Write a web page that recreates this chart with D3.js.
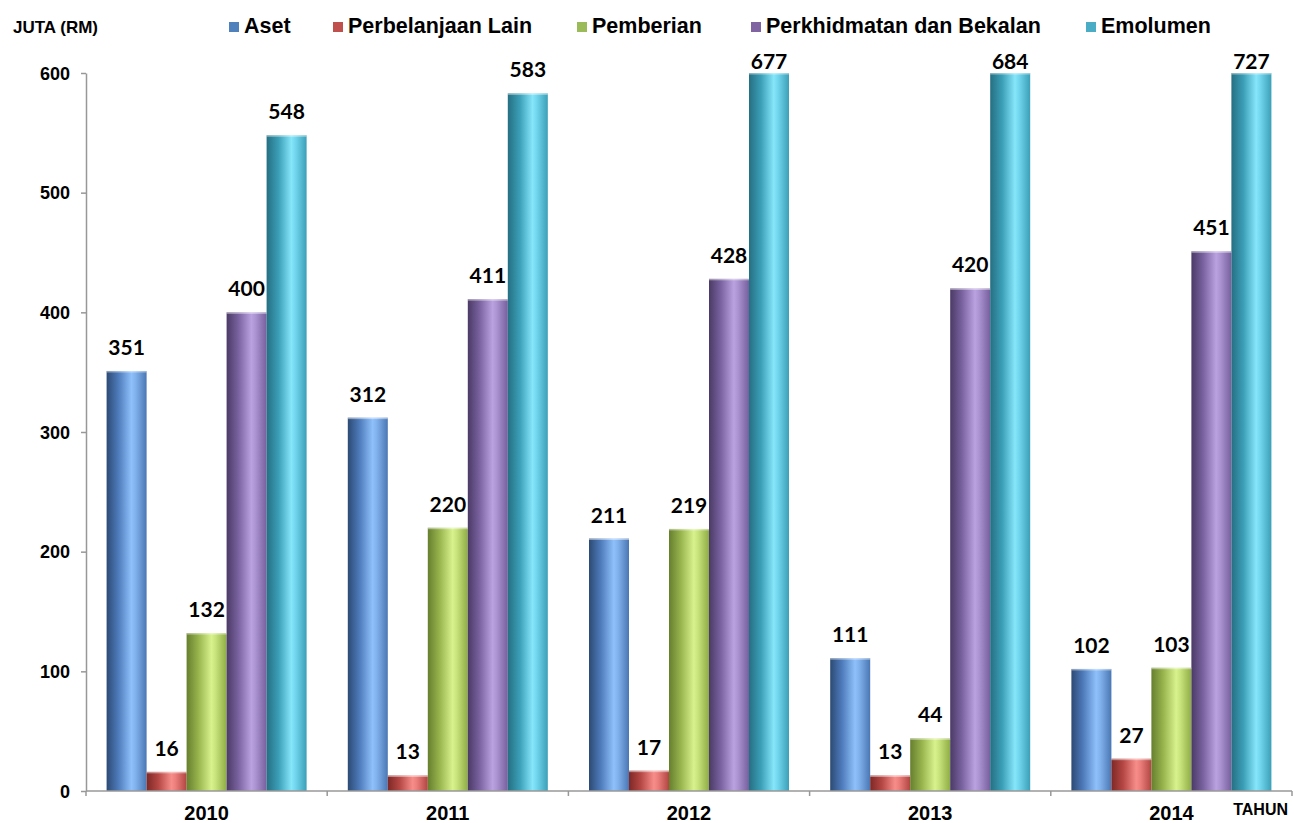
<!DOCTYPE html>
<html>
<head>
<meta charset="utf-8">
<script src="https://cdn.jsdelivr.net/npm/d3@7"></script>
<style>
  html, body { margin: 0; padding: 0; background: #fff; }
  svg { display: block; }
</style>
</head>
<body>
<svg id="chart" width="1294" height="823"></svg>
<script>
const years = ["2010", "2011", "2012", "2013", "2014"];
const seriesNames = ["Aset", "Perbelanjaan Lain", "Pemberian", "Perkhidmatan dan Bekalan", "Emolumen"];
const aset = [351, 312, 211, 111, 102];
const perbelanjaanLain = [16, 13, 17, 13, 27];
const pemberian = [132, 220, 219, 44, 103];
const perkhidmatan = [400, 411, 428, 420, 451];
const emolumen = [548, 583, 677, 684, 727];
const yTicks = [0, 100, 200, 300, 400, 500, 600];
const legendColors = ["#4f81bd", "#c0504d", "#9bbb59", "#8064a2", "#4bacc6"];
const gradStops = [
  ["#2c4a74", "#4f7cbc", "#8fc0fb", "#82b2ee", "#4a77b3"],
  ["#7e2826", "#b64845", "#f78d89", "#ec7f7b", "#b04542"],
  ["#667f2e", "#98b54e", "#d8f28e", "#c9e47c", "#8eac45"],
  ["#4b3a66", "#7a63a0", "#baa2e0", "#ac94d3", "#765f9c"],
  ["#256f82", "#3b9fb7", "#86e6fa", "#72d6ee", "#3a9fb7"]
];
const seriesValues = [aset, perbelanjaanLain, pemberian, perkhidmatan, emolumen];

const svg = d3.select("#chart");
const margin = { left: 86, right: 1292, top: 73, bottom: 791 };

const x0 = d3.scaleBand().domain(years).range([margin.left, margin.right]).paddingInner(0).paddingOuter(0);
const x1 = d3.scaleBand().domain(seriesNames).range([0, x0.bandwidth()]).paddingInner(0).paddingOuter(0.515);
const y = d3.scaleLinear().domain([0, 600]).range([margin.bottom, margin.top]);

// gradients
const defs = svg.append("defs");
seriesNames.forEach((s, i) => {
  const g = defs.append("linearGradient").attr("id", "grad" + i)
    .attr("x1", "0%").attr("x2", "100%").attr("y1", "0%").attr("y2", "0%");
  const offs = [0, 0.3, 0.62, 0.72, 1];
  gradStops[i].forEach((c, k) => g.append("stop").attr("offset", offs[k]).attr("stop-color", c));
});

// y axis
const yAxis = d3.axisLeft(y).tickValues(yTicks).tickSize(5).tickSizeOuter(0).tickPadding(11);
const yg = svg.append("g").attr("transform", `translate(${margin.left},0)`).call(yAxis);
yg.select(".domain").attr("stroke", "#989898").attr("stroke-width", 1.5);
yg.selectAll(".tick line").attr("stroke", "#989898").attr("stroke-width", 1.5);
yg.selectAll(".tick text").attr("font-family", "Liberation Sans, Arial, sans-serif")
  .attr("font-weight", "bold").attr("font-size", 18).attr("fill", "#000").attr("dy", "0.35em");

// bars
const data = [];
years.forEach((yr, yi) => {
  seriesNames.forEach((s, si) => data.push({ year: yr, series: s, si: si, value: seriesValues[si][yi] }));
});

const barG = svg.append("g");
barG.selectAll("rect.bar").data(data).join("rect").attr("class", "bar")
  .attr("x", d => x0(d.year) + x1(d.series))
  .attr("width", x1.bandwidth())
  .attr("y", d => y(Math.min(d.value, 600)))
  .attr("height", d => y(0) - y(Math.min(d.value, 600)))
  .attr("fill", d => `url(#grad${d.si})`);
barG.selectAll("rect.top").data(data).join("rect").attr("class", "top")
  .attr("x", d => x0(d.year) + x1(d.series))
  .attr("width", x1.bandwidth())
  .attr("y", d => y(Math.min(d.value, 600)))
  .attr("height", 1.5)
  .attr("fill", "#ffffff").attr("opacity", 0.45);

// value labels
barG.selectAll("text.val").data(data).join("text").attr("class", "val")
  .attr("x", d => x0(d.year) + x1(d.series) + x1.bandwidth() / 2)
  .attr("y", d => Math.max(y(Math.min(d.value, 600)) - 16, 69))
  .attr("text-anchor", "middle")
  .attr("font-family", "Lato, 'Open Sans', sans-serif")
  .attr("font-weight", "bold").attr("font-size", 21).attr("fill", "#000")
  .text(d => d.value);

// x axis
const xAxisG = svg.append("g");
xAxisG.append("line").attr("x1", margin.left).attr("x2", margin.right)
  .attr("y1", y(0)).attr("y2", y(0)).attr("stroke", "#989898").attr("stroke-width", 1.5);
const boundaries = years.map(yr => x0(yr)).concat([x0(years[years.length - 1]) + x0.bandwidth()]);
xAxisG.selectAll("line.xt").data(boundaries).join("line").attr("class", "xt")
  .attr("x1", d => d).attr("x2", d => d).attr("y1", y(0)).attr("y2", y(0) + 5)
  .attr("stroke", "#989898").attr("stroke-width", 1.5);
xAxisG.selectAll("text.yr").data(years).join("text").attr("class", "yr")
  .attr("x", d => x0(d) + x0.bandwidth() / 2).attr("y", 820)
  .attr("text-anchor", "middle")
  .attr("font-family", "Liberation Sans, Arial, sans-serif")
  .attr("font-weight", "bold").attr("font-size", 20).attr("fill", "#000")
  .text(d => d);

// axis titles
svg.append("text").attr("x", 13).attr("y", 33)
  .attr("font-family", "Liberation Sans, Arial, sans-serif")
  .attr("font-weight", "bold").attr("font-size", 17).attr("fill", "#000")
  .text("JUTA (RM)");
svg.append("text").attr("x", 1288).attr("y", 815).attr("text-anchor", "end")
  .attr("font-family", "Liberation Sans, Arial, sans-serif")
  .attr("font-weight", "bold").attr("font-size", 16).attr("fill", "#000")
  .text("TAHUN");

// legend
const legendX = [229, 333, 577, 751, 1086];
const lg = svg.append("g");
seriesNames.forEach((s, i) => {
  lg.append("rect").attr("x", legendX[i]).attr("y", 22).attr("width", 10).attr("height", 10)
    .attr("fill", legendColors[i]);
  lg.append("text").attr("x", legendX[i] + 15).attr("y", 33)
    .attr("font-family", "Liberation Sans, Arial, sans-serif")
    .attr("font-weight", "bold").attr("font-size", 21.5).attr("fill", "#000")
    .text(s);
});
</script>
</body>
</html>
